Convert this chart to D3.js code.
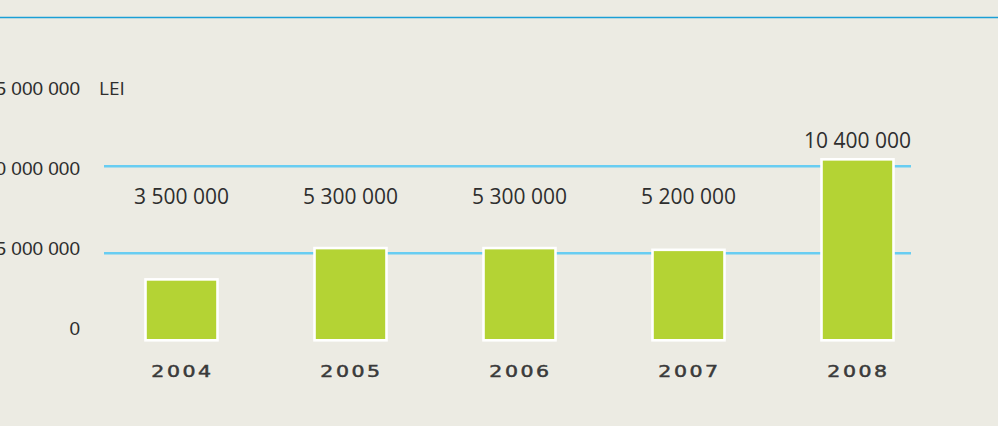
<!DOCTYPE html>
<html lang="en">
<head>
    <meta charset="UTF-8">
    <title>LEI 2004-2008</title>
    <style>
        body {
            margin: 0;
            background: #ecebe3;
            font-family: "Open Sans", sans-serif;
        }
        svg { display: block; }
        .ylab text { font-size: 19px; fill: #2e2e2e; }
        .value { font-size: 21px; fill: #2e2e2e; }
        .year { font-family: "DejaVu Sans", sans-serif; font-size: 16px; fill: #3a3a3a; stroke: #3a3a3a; stroke-width: 0.5px; letter-spacing: 2px; }
    </style>
</head>
<body>
<div id="chart"></div>
<script src="https://d3js.org/d3.v7.min.js"></script>
<script>
    // data
    const years = ["2004", "2005", "2006", "2007", "2008"];
    const amounts = [3500000, 5300000, 5300000, 5200000, 10400000];
    const yTicks = [0, 5000000, 10000000, 15000000];
    const gridValues = [5000000, 10000000];
    const unit = "LEI";

    const width = 998, height = 426;

    const svg = d3.select("#chart").append("svg")
        .attr("width", width)
        .attr("height", height);

    // rule along the top
    svg.append("line")
        .attr("x1", 0).attr("x2", width)
        .attr("y1", 17.5).attr("y2", 17.5)
        .attr("stroke", "#1b9fd6")
        .attr("stroke-width", 1.5);

    const x = d3.scaleBand()
        .domain(years)
        .range([97, 942])
        .paddingInner(0.574)
        .paddingOuter(0.287);

    const y = d3.scaleLinear()
        .domain([0, 5000000])
        .range([340.3, 253.3]);

    // labels sit on their own spacing in the original
    const yLabel = d3.scaleLinear()
        .domain([0, 15000000])
        .range([328, 88]);

    const fmt = v => d3.format(",")(v).replace(/,/g, " ");

    // grid
    svg.append("g").selectAll("line")
        .data(gridValues)
        .join("line")
        .attr("x1", 104).attr("x2", 911)
        .attr("y1", d => y(d)).attr("y2", d => y(d))
        .attr("stroke", "#68cdf2")
        .attr("stroke-width", 2.6);

    // y labels
    const yAxis = d3.axisLeft(yLabel)
        .tickValues(yTicks)
        .tickFormat(fmt)
        .tickSize(0)
        .tickPadding(0);

    const ya = svg.append("g")
        .attr("class", "ylab")
        .attr("transform", "translate(80,0)")
        .call(yAxis);
    ya.select(".domain").remove();
    ya.selectAll("text").attr("font-family", null).attr("font-size", null).attr("fill", null).attr("dy", "0.35em");

    svg.append("text")
        .attr("x", 99)
        .attr("y", yLabel(15000000))
        .attr("dy", "0.35em")
        .attr("font-size", 19)
        .attr("fill", "#2e2e2e")
        .text(unit);

    const data = years.map((yr, i) => ({ year: yr, value: amounts[i] }));

    // bars
    svg.append("g").selectAll("rect")
        .data(data)
        .join("rect")
        .attr("x", d => x(d.year))
        .attr("y", d => y(d.value))
        .attr("width", x.bandwidth())
        .attr("height", d => y(0) - y(d.value))
        .attr("fill", "#b4d334")
        .attr("stroke", "#fff")
        .attr("stroke-width", 2.6);

    // value labels: the lower ones share one line
    const labelFloor = y(7150000);
    svg.append("g").selectAll("text")
        .data(data)
        .join("text")
        .attr("class", "value")
        .attr("x", d => x(d.year) + x.bandwidth() / 2)
        .attr("y", d => Math.min(y(d.value), labelFloor) - 19)
        .attr("dy", "0.35em")
        .attr("text-anchor", "middle")
        .text(d => fmt(d.value));

    // years, in a wide face: stretch a plain one
    svg.append("g").selectAll("text")
        .data(data)
        .join("text")
        .attr("class", "year")
        .attr("transform", d => `translate(${x(d.year) + x.bandwidth() / 2 + 1},371) scale(1.28,1)`)
        .attr("dy", "0.35em")
        .attr("text-anchor", "middle")
        .text(d => d.year);
</script>
</body>
</html>
